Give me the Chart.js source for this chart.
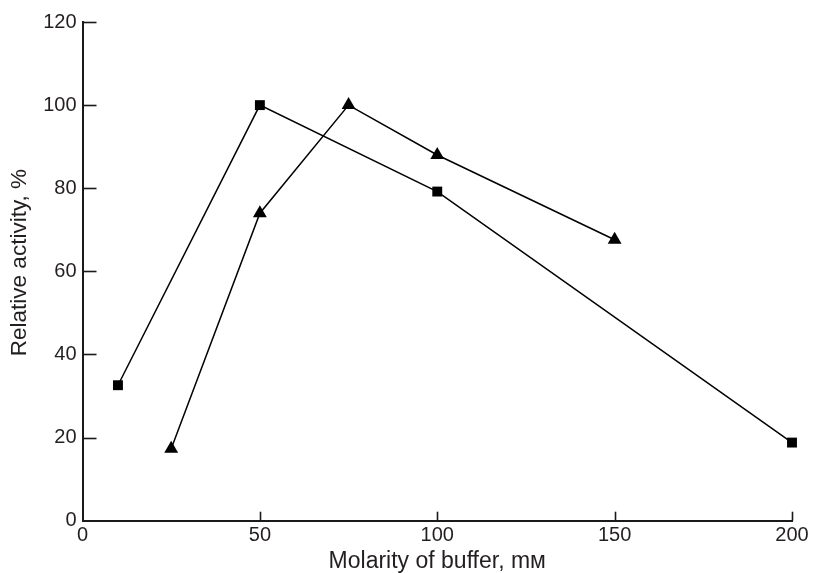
<!DOCTYPE html>
<html>
<head>
<meta charset="utf-8">
<script src="https://cdn.jsdelivr.net/npm/chart.js@4/dist/chart.umd.min.js"></script>
<style>
  html, body { margin: 0; padding: 0; background: #ffffff; }
  #wrap { width: 814px; height: 573px; position: relative; }
</style>
</head>
<body>
<div id="wrap"><canvas id="c" width="814" height="573"></canvas></div>
<script>
// Data
const squareX = [10, 50, 100, 200];
const squareY = [32.6, 100, 79.2, 18.8];
const triangleX = [25, 50, 75, 100, 150];
const triangleY = [17.3, 74, 100, 88, 67.6];
const xTicks = [0, 50, 100, 150, 200];
const yTicks = [0, 20, 40, 60, 80, 100, 120];
const xTitle = 'Molarity of buffer, m\u1D0D';
const yTitle = 'Relative activity, %';

const toPoints = (xs, ys) => xs.map((x, i) => ({ x: x, y: ys[i] }));

const FONT = '"Liberation Sans", Arial, Helvetica, "DejaVu Sans", sans-serif';
const TEXT = '#231f20';

const innerTicks = {
  id: 'innerTicks',
  afterDatasetsDraw(chart) {
    const { ctx, chartArea, scales } = chart;
    ctx.save();
    ctx.strokeStyle = '#1a1a1a';
    ctx.lineWidth = 1.6;
    xTicks.forEach(v => {
      if (v === 0) return;
      const px = Math.round(scales.x.getPixelForValue(v)) + 0.5;
      ctx.beginPath();
      ctx.moveTo(px, chartArea.bottom);
      ctx.lineTo(px, chartArea.bottom - 9);
      ctx.stroke();
    });
    yTicks.forEach(v => {
      if (v === 0) return;
      const py = Math.round(scales.y.getPixelForValue(v)) + 0.5;
      ctx.beginPath();
      ctx.moveTo(chartArea.left, py);
      ctx.lineTo(chartArea.left + 14, py);
      ctx.stroke();
    });
    ctx.restore();
  }
};

new Chart(document.getElementById('c'), {
  type: 'line',
  data: {
    datasets: [
      {
        label: 'square',
        data: toPoints(squareX, squareY),
        borderColor: '#000000',
        backgroundColor: '#000000',
        borderWidth: 1.5,
        pointStyle: 'rect',
        pointRadius: 7,
        pointBorderWidth: 0,
        pointBackgroundColor: '#000000',
        tension: 0,
        clip: false
      },
      {
        label: 'triangle',
        data: toPoints(triangleX, triangleY),
        borderColor: '#000000',
        backgroundColor: '#000000',
        borderWidth: 1.5,
        pointStyle: 'triangle',
        pointRadius: 8,
        pointBorderWidth: 0,
        pointBackgroundColor: '#000000',
        tension: 0,
        clip: false
      }
    ]
  },
  options: {
    responsive: false,
    animation: false,
    events: [],
    layout: { padding: { left: 0, right: 22, top: 22, bottom: 0 } },
    plugins: {
      legend: { display: false },
      tooltip: { enabled: false },
      title: { display: false }
    },
    scales: {
      x: {
        type: 'linear',
        min: 0,
        max: 200,
        afterBuildTicks: s => { s.ticks = xTicks.map(v => ({ value: v })); },
        afterFit: s => { s.height = 52.3; },
        grid: { display: false, drawTicks: false },
        border: { display: true, color: '#1a1a1a', width: 2 },
        ticks: {
          padding: 3,
          color: TEXT,
          font: { family: FONT, size: 20 },
          maxRotation: 0
        },
        title: {
          display: true,
          text: xTitle,
          color: TEXT,
          font: { family: FONT, size: 23, lineHeight: 1.0 },
          padding: { top: 0, bottom: 0 }
        }
      },
      y: {
        type: 'linear',
        min: 0,
        max: 120,
        afterBuildTicks: s => { s.ticks = yTicks.map(v => ({ value: v })); },
        afterFit: s => { s.width = 82.5; },
        grid: { display: false, drawTicks: false },
        border: { display: true, color: '#1a1a1a', width: 2 },
        ticks: {
          padding: 6,
          color: TEXT,
          font: { family: FONT, size: 20 }
        },
        title: {
          display: true,
          text: '\u2002 ' + yTitle,
          color: TEXT,
          font: { family: FONT, size: 22.5, lineHeight: 1.1 },
          padding: { top: 7.5, bottom: 0 }
        }
      }
    }
  },
  plugins: [innerTicks]
});
</script>
</body>
</html>
